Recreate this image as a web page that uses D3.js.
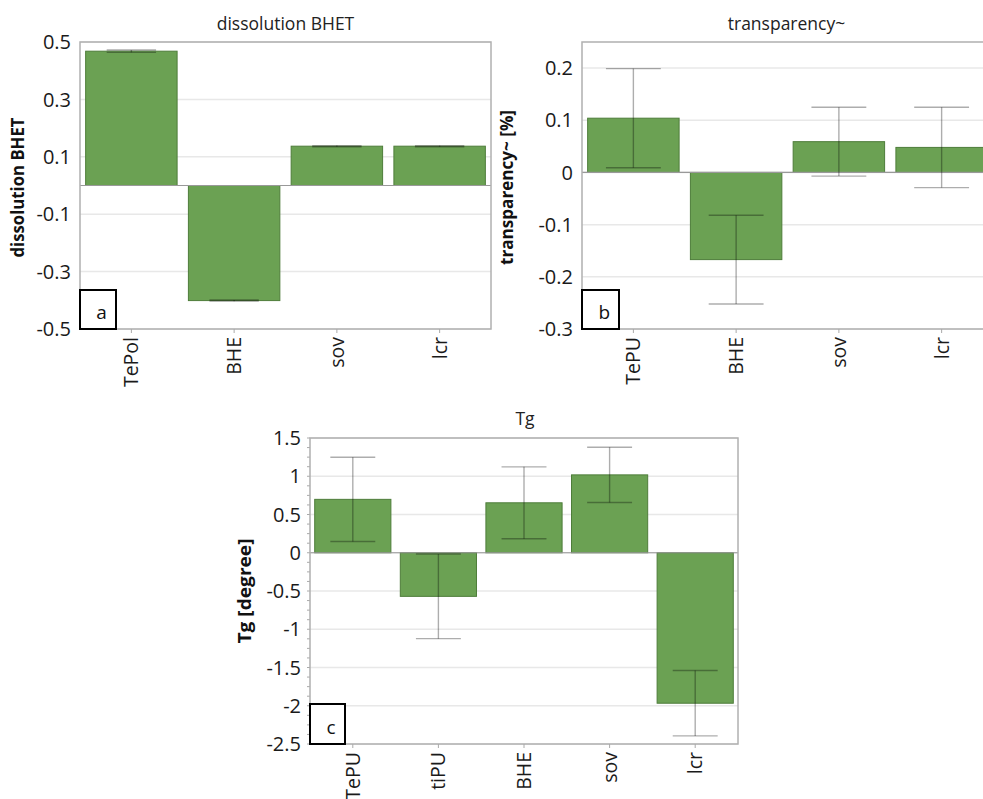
<!DOCTYPE html>
<html>
<head>
<meta charset="utf-8">
<script src="https://cdn.jsdelivr.net/npm/d3@7"></script>
<style>
  body { margin: 0; background: #fff; }
  svg { display: block; font-family: "Open Sans", "Noto Sans", sans-serif; }
</style>
</head>
<body>
<svg id="chart" width="983" height="799"></svg>
<script>
// panel a
const catsA = ['TePol', 'BHE', 'sov', 'lcr'];
const meanA = [0.468, -0.401, 0.137, 0.137];
const errA = [0.004, 0.002, 0.002, 0.002];
const ticksA = [0.5, 0.3, 0.1, -0.1, -0.3, -0.5];

// panel b
const catsB = ['TePU', 'BHE', 'sov', 'lcr'];
const meanB = [0.104, -0.167, 0.059, 0.048];
const errB = [0.095, 0.085, 0.066, 0.077];
const ticksB = [0.2, 0.1, 0, -0.1, -0.2, -0.3];

// panel c
const catsC = ['TePU', 'tiPU', 'BHE', 'sov', 'lcr'];
const meanC = [0.698, -0.57, 0.653, 1.018, -1.967];
const errC = [0.55, 0.553, 0.47, 0.361, 0.427];
const ticksC = [1.5, 1, 0.5, 0, -0.5, -1, -1.5, -2, -2.5];

const svg = d3.select('#chart');

function drawPanel(p) {
  const g = svg.append('g')
    .attr('transform', `translate(${p.left},${p.top})`);

  const x = d3.scaleBand()
    .domain(p.cats)
    .range([0, p.width])
    .paddingInner(0.11)
    .paddingOuter(0.055);

  const y = d3.scaleLinear()
    .domain(p.domain)
    .range([p.height, 0]);

  // grid lines
  g.append('g').selectAll('line')
    .data(p.ticks)
    .enter().append('line')
    .attr('x1', 0).attr('x2', p.width)
    .attr('y1', d => y(d)).attr('y2', d => y(d))
    .style('stroke', '#e8e8e8')
    .style('stroke-width', 1.5);

  // minor ticks
  if (p.minor) {
    const minor = d3.range(p.domain[0], p.domain[1] + 1e-9, p.minor);
    g.append('g').selectAll('line')
      .data(minor)
      .enter().append('line')
      .attr('x1', -3).attr('x2', 0)
      .attr('y1', d => y(d)).attr('y2', d => y(d))
      .style('stroke', '#aaa');
  }

  const rows = p.cats.map((c, i) => ({cat: c, mean: p.mean[i], err: p.err[i]}));

  // bars
  g.append('g').selectAll('rect')
    .data(rows)
    .enter().append('rect')
    .attr('x', d => x(d.cat))
    .attr('width', x.bandwidth())
    .attr('y', d => y(Math.max(0, d.mean)))
    .attr('height', d => Math.abs(y(d.mean) - y(0)))
    .style('fill', '#6ba153')
    .style('stroke', '#4e7d3a')
    .style('stroke-width', 1);

  // zero line
  g.append('line')
    .attr('x1', 0).attr('x2', p.width)
    .attr('y1', y(0)).attr('y2', y(0))
    .style('stroke', '#999')
    .style('stroke-width', 1.2);

  // error bars
  const cap = x.bandwidth() * p.cap / 2;
  const eb = g.append('g').selectAll('g')
    .data(rows)
    .enter().append('g')
    .attr('transform', d => `translate(${x(d.cat) + x.bandwidth() / 2},0)`)
    .style('stroke', 'rgba(0,0,0,0.32)')
    .style('stroke-width', 1.4);
  eb.append('line')
    .attr('y1', d => y(d.mean + d.err)).attr('y2', d => y(d.mean - d.err));
  eb.append('line')
    .attr('x1', -cap).attr('x2', cap)
    .attr('y1', d => y(d.mean + d.err)).attr('y2', d => y(d.mean + d.err));
  eb.append('line')
    .attr('x1', -cap).attr('x2', cap)
    .attr('y1', d => y(d.mean - d.err)).attr('y2', d => y(d.mean - d.err));

  // frame
  g.append('rect')
    .attr('width', p.width).attr('height', p.height)
    .style('fill', 'none')
    .style('stroke', '#b0b0b0')
    .style('stroke-width', 1.5);

  // y tick labels
  g.append('g').selectAll('text')
    .data(p.ticks)
    .enter().append('text')
    .attr('x', -9)
    .attr('y', d => y(d))
    .attr('dy', '0.36em')
    .attr('text-anchor', 'end')
    .style('font-size', '20px')
    .style('fill', '#1a1a1a')
    .text(d => String(d));

  // x ticks and labels
  const xt = g.append('g').selectAll('g')
    .data(p.cats)
    .enter().append('g')
    .attr('transform', d => `translate(${x(d) + x.bandwidth() / 2},${p.height})`);
  xt.append('line')
    .attr('y1', 0).attr('y2', 4)
    .style('stroke', '#aaa');
  xt.append('text')
    .attr('transform', 'translate(0,8) rotate(-90)')
    .attr('dy', '0.36em')
    .attr('text-anchor', 'end')
    .style('font-size', '19.5px')
    .style('fill', '#1a1a1a')
    .text(d => d);

  // title
  g.append('text')
    .attr('x', p.width / 2 + p.titleShift)
    .attr('y', p.titleY)
    .attr('text-anchor', 'middle')
    .style('font-size', '17.5px')
    .style('fill', '#222')
    .text(p.title);

  // y label
  g.append('text')
    .attr('transform', `translate(${p.labelX},${p.height / 2 + p.labelShift}) rotate(-90)`)
    .attr('text-anchor', 'middle')
    .attr('textLength', p.labelLen)
    .attr('lengthAdjust', 'spacingAndGlyphs')
    .style('font-size', '17px')
    .style('font-weight', 'bold')
    .style('fill', '#111')
    .text(p.ylabel);

  // panel letter box
  g.append('rect')
    .attr('x', 0).attr('y', p.height - p.boxH)
    .attr('width', p.boxW).attr('height', p.boxH)
    .style('fill', '#fff')
    .style('stroke', '#000')
    .style('stroke-width', 2);
  g.append('text')
    .attr('x', p.boxW * 0.6)
    .attr('y', p.height - 10)
    .attr('text-anchor', 'middle')
    .style('font-size', '19px')
    .style('fill', '#111')
    .text(p.letter);
}

drawPanel({
  cats: catsA, mean: meanA, err: errA, ticks: ticksA,
  domain: [-0.5, 0.5], left: 80, top: 42, width: 411, height: 287,
  title: 'dissolution BHET', titleY: -12, titleShift: 0,
  ylabel: 'dissolution BHET', labelX: -56, labelShift: 2, labelLen: 140,
  letter: 'a', boxW: 36, boxH: 39, cap: 0.54
});

drawPanel({
  cats: catsB, mean: meanB, err: errB, ticks: ticksB,
  domain: [-0.3, 0.25], left: 582, top: 42, width: 411, height: 287,
  title: 'transparency~', titleY: -12, titleShift: -1,
  ylabel: 'transparency~  [%]', labelX: -69, labelShift: 2, labelLen: 155,
  letter: 'b', boxW: 37, boxH: 39, cap: 0.6
});

drawPanel({
  cats: catsC, mean: meanC, err: errC, ticks: ticksC,
  domain: [-2.5, 1.5], left: 310, top: 438, width: 428, height: 306,
  title: 'Tg', titleY: -13, titleShift: 1,
  ylabel: 'Tg [degree]', labelX: -59, labelShift: 0, labelLen: 105,
  letter: 'c', boxW: 35, boxH: 40, cap: 0.59, minor: 0.125
});
</script>
</body>
</html>
